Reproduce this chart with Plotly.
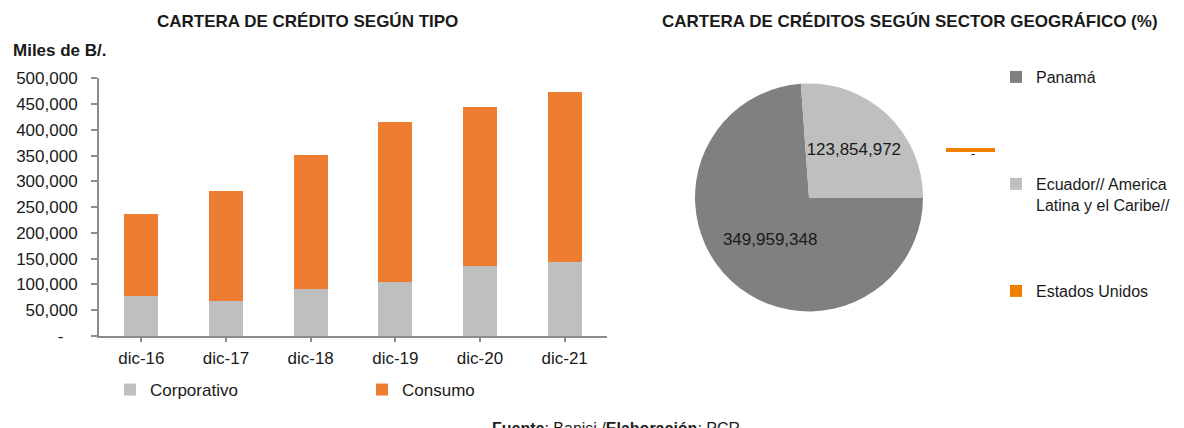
import plotly.graph_objects as go

# ---- data ----
categories = ["dic-16", "dic-17", "dic-18", "dic-19", "dic-20", "dic-21"]
corporativo = [77000, 67000, 91000, 105000, 136000, 143000]
consumo = [159000, 215000, 261000, 310000, 308000, 331000]
ytick_vals = [0, 50000, 100000, 150000, 200000, 250000, 300000, 350000, 400000, 450000, 500000]
ytick_text = ["-\u00a0\u00a0\u00a0", "50,000", "100,000", "150,000", "200,000", "250,000",
              "300,000", "350,000", "400,000", "450,000", "500,000"]

pie_labels = ["Panamá", "Ecuador// America<br>Latina y el Caribe//", "Estados Unidos"]
pie_values = [349959348, 123854972, 0]

# ---- styles ----
OFF = 8                      # page body margin of the html page
W, H = 1184 - OFF, 428 - OFF
FONT = "Liberation Sans, Arial, sans-serif"
GREY = "#BFBFBF"
ORANGE = "#ED7D31"
DARK = "#808080"
US_ORANGE = "#F07F00"
AXIS = "#8C8C8C"


def px_x(x):
    return (x - OFF) / W


def px_y(y):
    return 1 - (y - OFF) / H


fig = go.Figure()

fig.add_trace(go.Bar(x=categories, y=corporativo, name="Corporativo",
                     marker=dict(color=GREY, line=dict(width=0)), legend="legend"))
fig.add_trace(go.Bar(x=categories, y=consumo, name="Consumo",
                     marker=dict(color=ORANGE, line=dict(width=0)), legend="legend"))

# pad pie legend labels with blank lines to reproduce the spaced legend
pad_lines = [4, 3, 0]
legend_labels = [lab + "<br> " * n for lab, n in zip(pie_labels, pad_lines)]

fig.add_trace(go.Pie(
    labels=legend_labels, values=pie_values,
    marker=dict(colors=[DARK, GREY, US_ORANGE], line=dict(width=0)),
    sort=False, direction="clockwise", rotation=90,
    texttemplate="%{value:,.0f}", textposition="inside",
    insidetextorientation="horizontal",
    textfont=dict(family=FONT, size=17, color="#1a1a1a"),
    domain=dict(x=[px_x(695), px_x(923)], y=[px_y(312), px_y(83)]),
    legend="legend2", showlegend=True, hoverinfo="label+value",
))

fig.update_layout(
    width=W, height=H,
    margin=dict(l=0, r=0, t=0, b=0, autoexpand=False),
    paper_bgcolor="white", plot_bgcolor="white",
    font=dict(family=FONT, size=17, color="#1a1a1a"),
    barmode="stack", bargap=0.6,
    xaxis=dict(domain=[px_x(99), px_x(607)], showline=True, linecolor=AXIS, linewidth=2,
               ticks="outside", ticklen=4, tickcolor=AXIS, tickwidth=1.5,
               showgrid=False, zeroline=False, ticklabelstandoff=2,
               tickfont=dict(size=17)),
    yaxis=dict(domain=[px_y(336), px_y(78.3)], range=[0, 500000], showline=True,
               linecolor=AXIS, linewidth=2, ticks="outside", ticklen=6, tickcolor=AXIS,
               tickwidth=1.5, showgrid=False, zeroline=False,
               tickvals=ytick_vals, ticktext=ytick_text, ticklabelstandoff=10,
               tickfont=dict(size=17)),
    legend=dict(orientation="h", xref="container", yref="container",
                x=px_x(110), xanchor="left", y=px_y(390), yanchor="middle",
                entrywidth=207, traceorder="normal", font=dict(size=17),
                bgcolor="rgba(0,0,0,0)", itemclick=False),
    legend2=dict(orientation="v", xref="container", yref="container",
                 x=px_x(996), xanchor="left", y=px_y(60), yanchor="top",
                 valign="top", font=dict(size=16), bgcolor="rgba(0,0,0,0)",
                 tracegroupgap=0, maxheight=380),
    showlegend=True,
)

# titles and notes
fig.add_annotation(text="<b>CARTERA DE CRÉDITO SEGÚN TIPO</b>", x=px_x(307), y=px_y(21),
                   xref="paper", yref="paper", xanchor="center", yanchor="middle",
                   showarrow=False, font=dict(size=17))
fig.add_annotation(text="<b>CARTERA DE CRÉDITOS SEGÚN SECTOR GEOGRÁFICO (%)</b>",
                   x=px_x(910), y=px_y(21), xref="paper", yref="paper",
                   xanchor="center", yanchor="middle", showarrow=False,
                   font=dict(size=17))
fig.add_annotation(text="<b>Miles de B/.</b>", x=px_x(11), y=px_y(51), xref="paper",
                   yref="paper", xanchor="left", yanchor="middle", showarrow=False,
                   font=dict(size=17))
fig.add_annotation(text="<b>Fuente</b>: Banisi /<b>Elaboración</b>: PCR", x=px_x(616),
                   y=px_y(428), xref="paper", yref="paper", xanchor="center",
                   yanchor="middle", showarrow=False, font=dict(size=16))

# zero-value slice label with its leader line
fig.add_shape(type="line", xref="paper", yref="paper", x0=px_x(946), x1=px_x(995),
              y0=px_y(150), y1=px_y(150), line=dict(color=US_ORANGE, width=4))
fig.add_annotation(text="-", x=px_x(973), y=px_y(153), xref="paper", yref="paper",
                   xanchor="center", yanchor="middle", showarrow=False,
                   font=dict(size=13))

fig.write_html("out.html")
